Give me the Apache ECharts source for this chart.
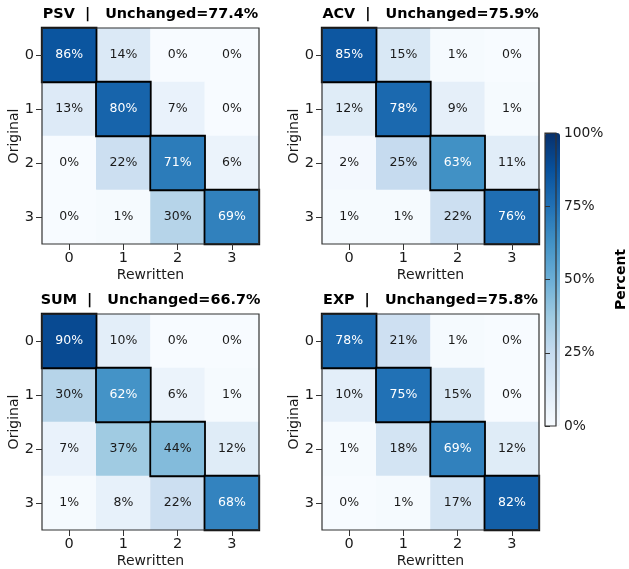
<!DOCTYPE html>
<html><head><meta charset="utf-8">
<script src="https://cdn.jsdelivr.net/npm/echarts@6/dist/echarts.min.js"></script>
<style>html,body{margin:0;padding:0;background:#fff}#c{width:629px;height:569px}</style>
</head><body><div id="c"></div>
<script>
const categories = ['0','1','2','3'];
const panelNames = ['PSV','ACV','SUM','EXP'];
const unchanged = [77.4, 75.9, 66.7, 75.8];
const psv = [[86,14,0,0],[13,80,7,0],[0,22,71,6],[0,1,30,69]];
const acv = [[85,15,1,0],[12,78,9,1],[2,25,63,11],[1,1,22,76]];
const sum = [[90,10,0,0],[30,62,6,1],[7,37,44,12],[1,8,22,68]];
const exp = [[78,21,1,0],[10,75,15,0],[1,18,69,12],[0,1,17,82]];
const colorbarTicks = [0,25,50,75,100];
const matrices = [psv, acv, sum, exp];

const blues = ['#f7fbff','#deebf7','#c6dbef','#9ecae1','#6baed6','#4292c6','#2171b5','#08519c','#08306b'];
const FONT = 'DejaVu Sans';
const TXT = '#1a1a1a';
const LINE = '#333';
const gridPos = [
  {left:42, top:28, width:217, height:216},
  {left:322, top:28, width:217, height:216},
  {left:42, top:314, width:217, height:217},
  {left:322, top:314, width:217, height:217}
];
const titleTops = [7, 7, 293, 293];

const grids = [], xAxes = [], yAxes = [], series = [], titles = [];
matrices.forEach((m, k) => {
  const g = gridPos[k];
  grids.push(Object.assign({show:true, borderColor:LINE, borderWidth:1.2, backgroundColor:'transparent', z:10}, g));
  xAxes.push({type:'category', gridIndex:k, data:categories, position:'bottom',
    name:'Rewritten', nameLocation:'middle', nameGap:24,
    nameTextStyle:{fontFamily:FONT, fontSize:14, color:TXT},
    axisLine:{show:false}, splitLine:{show:false},
    axisTick:{show:true, alignWithLabel:true, length:6, lineStyle:{color:LINE, width:1}},
    axisLabel:{fontFamily:FONT, fontSize:14.5, color:TXT, margin:7}, z:10});
  yAxes.push({type:'category', gridIndex:k, data:categories, inverse:true,
    name:'Original', nameLocation:'middle', nameGap:20, nameRotate:90,
    nameTextStyle:{fontFamily:FONT, fontSize:14, color:TXT},
    axisLine:{show:false}, splitLine:{show:false},
    axisTick:{show:true, alignWithLabel:true, length:6, lineStyle:{color:LINE, width:1}},
    axisLabel:{fontFamily:FONT, fontSize:14.5, color:TXT, margin:8}, z:10});
  const off = [], diag = [];
  m.forEach((row, i) => row.forEach((v, j) => {
    const item = {value:[j, i, v], label:{color: v > 50 ? '#fff' : TXT}};
    if (i === j) {
      item.itemStyle = {borderColor:'#000', borderWidth:1.8};
      diag.push(item);
    } else off.push(item);
  }));
  series.push({type:'heatmap', xAxisIndex:k, yAxisIndex:k, data: off.concat(diag),
    label:{show:true, fontFamily:FONT, fontSize:12.5, formatter: p => p.value[2] + '%'},
    emphasis:{disabled:true}, progressive:0});
  titles.push({text: panelNames[k] + '  |   Unchanged=' + unchanged[k].toFixed(1) + '%',
    left: g.left + g.width/2, top: titleTops[k], textAlign:'center', padding:0,
    textStyle:{fontFamily:FONT, fontSize:14.4, fontWeight:'bold', color:'#000'}});
});

// colorbar axis
grids.push({left:545, top:133, width:15, height:293, show:true, borderColor:LINE, borderWidth:1.2, backgroundColor:'transparent', z:10});
xAxes.push({type:'value', gridIndex:4, show:false, min:0, max:1});
yAxes.push({type:'value', gridIndex:4, position:'right', min:colorbarTicks[0], max:colorbarTicks[colorbarTicks.length-1],
  interval:colorbarTicks[1]-colorbarTicks[0],
  name:'Percent', nameLocation:'middle', nameGap:58, nameRotate:90,
  nameTextStyle:{fontFamily:FONT, fontSize:14, fontWeight:'bold', color:'#000'},
  axisLine:{show:false}, splitLine:{show:false},
  axisTick:{show:true, length:5, lineStyle:{color:LINE, width:1}},
  axisLabel:{fontFamily:FONT, fontSize:13.8, color:TXT, margin:8, formatter:'{value}%'}, z:10});

const chart = echarts.init(document.getElementById('c'), null, {renderer:'canvas'});
chart.setOption({
  animation:false,
  backgroundColor:'#fff',
  title: titles,
  grid: grids,
  xAxis: xAxes,
  yAxis: yAxes,
  visualMap: {type:'continuous', min:0, max:100, seriesIndex:[0,1,2,3], calculable:false,
    orient:'vertical', left:545, top:133, padding:0, itemWidth:15, itemHeight:293,
    text:['',''], showLabel:false, inRange:{color:blues}},
  series: series
});
</script></body></html>
